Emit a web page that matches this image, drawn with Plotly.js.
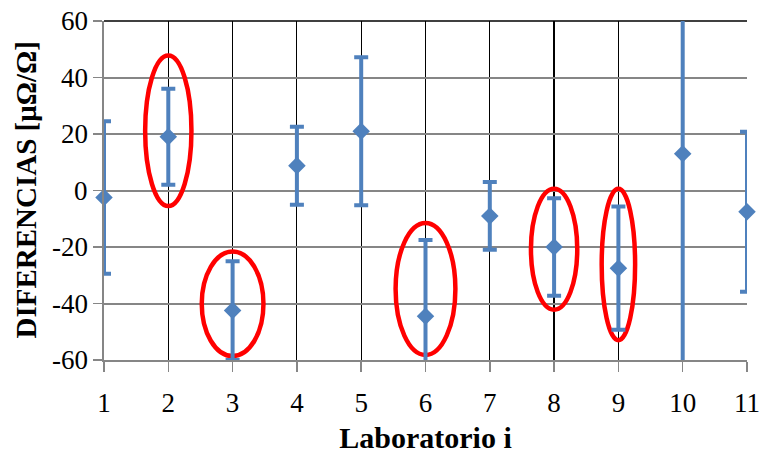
<!DOCTYPE html>
<html>
<head>
<meta charset="utf-8">
<script src="https://cdn.plot.ly/plotly-3.0.1.min.js"></script>
<style>
  html, body { margin: 0; padding: 0; background: #ffffff; }
  #chart { width: 759px; height: 459px; }
</style>
</head>
<body>
<div id="chart"></div>
<script>
// Laboratories taking part in the comparison
const labs = [1, 2, 3, 4, 5, 6, 7, 8, 9, 10, 11];
// Difference from the reference value, µΩ/Ω
const diffs = [-2.5, 19, -42.5, 8.8, 21, -44.5, -9, -20, -27.5, 13, -7.5];
// Expanded uncertainty of each difference, µΩ/Ω
const uncert = [27, 17, 17.5, 13.8, 26.2, 27, 12, 17.3, 21.8, 80, 28.3];
// Laboratories whose results are circled
const flagged = [2, 3, 6, 8, 9];
// Y tick labels
const yTicks = [-60, -40, -20, 0, 20, 40, 60];
const yTitle = 'DIFERENCIAS [μΩ/Ω]';

const blue = '#4f81bd';
const gray = '#868686';
const serif = 'Liberation Serif';

// Ellipse outline around each circled laboratory: half width (x units) and y extent
const ellipseFor = {
  2: { hw: 0.36, y0: -5.5, y1: 47.8 },
  3: { hw: 0.48, y0: -58.6, y1: -21.6 },
  6: { hw: 0.465, y0: -58.2, y1: -11.5 },
  8: { hw: 0.36, y0: -42.2, y1: 0.6 },
  9: { hw: 0.26, y0: -53.0, y1: 0.6 }
};

const shapes = flagged.map(function (lab) {
  const e = ellipseFor[lab];
  return {
    type: 'circle', xref: 'x', yref: 'y', layer: 'between',
    x0: lab - e.hw, x1: lab + e.hw, y0: e.y0, y1: e.y1,
    line: { color: '#ff0000', width: 4.5 }
  };
});
// top frame line
shapes.push({
  type: 'line', xref: 'paper', yref: 'paper', layer: 'below',
  x0: 0, x1: 1, y0: 1, y1: 1, line: { color: '#000000', width: 1.5 }
});

// y tick labels and y title written beside the axis
const annotations = yTicks.map(function (v) {
  return {
    xref: 'paper', yref: 'y', x: 0, y: v, xanchor: 'right', yanchor: 'middle',
    xshift: -14, showarrow: false, text: String(v),
    font: { family: serif, size: 27, color: '#000000' }
  };
});
annotations.push({
  xref: 'paper', yref: 'paper', x: 0, y: 0.5, xanchor: 'center', yanchor: 'middle',
  xshift: -79, textangle: -90, showarrow: false, text: '<b>' + yTitle + '</b>',
  font: { family: serif, size: 29, color: '#000000' }
});

// error bars, clipped to the plotting area
const bars = {
  x: labs, y: diffs, type: 'scatter', mode: 'markers',
  cliponaxis: true, hoverinfo: 'skip',
  marker: { size: 1, opacity: 0, color: blue },
  error_y: { type: 'data', array: uncert, visible: true,
             color: blue, thickness: 4, width: 7 }
};
// diamond markers, drawn whole even at the edges
const points = {
  x: labs, y: diffs, type: 'scatter', mode: 'markers',
  cliponaxis: false,
  marker: { symbol: 'diamond', size: 13.5, color: blue, line: { width: 0 } }
};

const layout = {
  width: 759, height: 459,
  margin: { l: 104, r: 12, t: 21, b: 99 },
  paper_bgcolor: '#ffffff', plot_bgcolor: '#ffffff',
  showlegend: false,
  font: { family: serif, color: '#000000', size: 27 },
  xaxis: {
    range: [1, 11], tickvals: labs, ticktext: labs.map(String),
    showgrid: true, gridcolor: '#000000', gridwidth: 1.2,
    zeroline: false, showline: true, linecolor: gray, linewidth: 2,
    ticks: 'outside', ticklen: 10, tickcolor: gray, tickwidth: 1.5,
    ticklabelstandoff: 8, ticklabeloverflow: 'allow',
    tickfont: { family: serif, size: 27, color: '#000000' },
    title: { text: '<b>Laboratorio i</b>', standoff: 10,
             font: { family: serif, size: 30, color: '#000000' } }
  },
  yaxis: {
    range: [-60, 60], tickvals: yTicks, showticklabels: false,
    showgrid: true, gridcolor: gray, gridwidth: 2,
    zeroline: false, showline: true, linecolor: gray, linewidth: 2,
    ticks: 'outside', ticklen: 9, tickcolor: gray, tickwidth: 1.5
  },
  shapes: shapes,
  annotations: annotations
};

Plotly.newPlot('chart', [bars, points], layout, { displayModeBar: false, staticPlot: true });
</script>
</body>
</html>
